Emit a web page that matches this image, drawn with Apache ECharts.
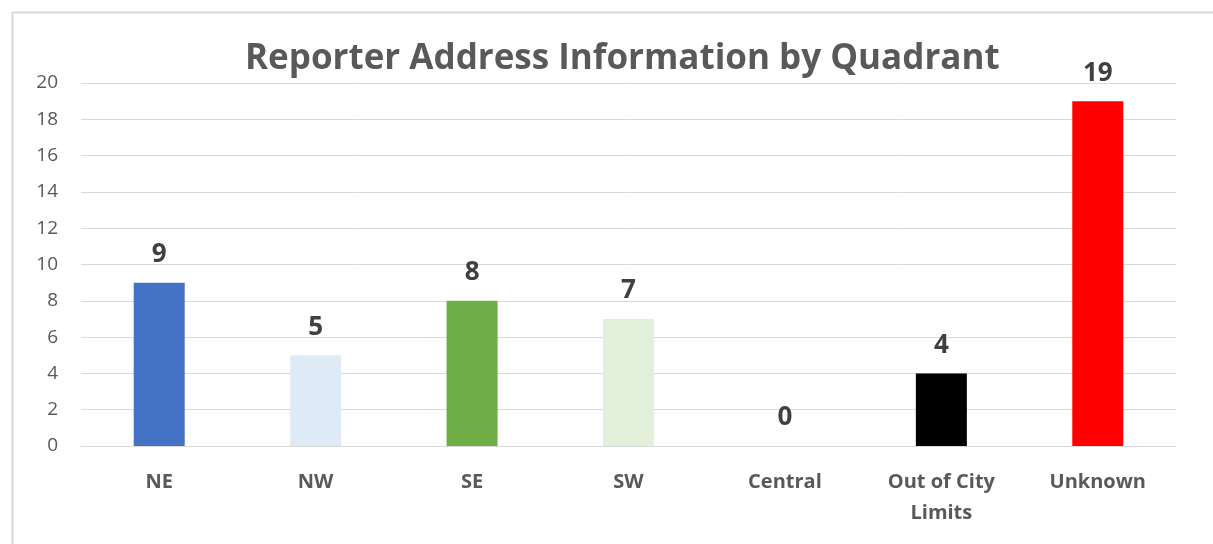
<!DOCTYPE html>
<html><head><meta charset="utf-8">
<script src="https://cdn.jsdelivr.net/npm/echarts@6/dist/echarts.min.js"></script>
<style>html,body{margin:0;padding:0;background:#fff;}#c{width:1213px;height:544px;}</style>
</head><body><div id="c"></div>
<script>
const categories = ['NE', 'NW', 'SE', 'SW', 'Central', 'Out of City\nLimits', 'Unknown'];
const values = [9, 5, 8, 7, 0, 4, 19];
const barColors = ['#4472C4', '#DEEBF7', '#70AD47', '#E2EFDA', '#A5A5A5', '#000000', '#FF0000'];
const yTicks = [0, 2, 4, 6, 8, 10, 12, 14, 16, 18, 20];

const chart = echarts.init(document.getElementById('c'));
const font = 'Open Sans';
chart.setOption({
  animation: false,
  backgroundColor: '#fff',
  graphic: [{
    type: 'rect', left: 10, top: 10,
    shape: { width: 1220, height: 560 },
    style: { fill: 'none', stroke: '#D9D9D9', lineWidth: 2 }
  }],
  title: {
    text: 'Reporter Address Information by Quadrant',
    left: 240, top: 37,
    textStyle: { fontFamily: font, fontWeight: 'bold', fontSize: 35, color: '#595959' }
  },
  grid: { left: 81, right: 37, top: 83, bottom: 98 },
  xAxis: {
    type: 'category', data: categories,
    axisLine: { show: true, lineStyle: { color: '#D9D9D9', width: 1 } },
    axisTick: { show: false },
    axisLabel: { fontFamily: font, fontWeight: 'bold', fontSize: 20, color: '#595959', margin: 21, lineHeight: 31 }
  },
  yAxis: {
    type: 'value', min: yTicks[0], max: yTicks[yTicks.length - 1], interval: 2,
    axisLine: { show: false }, axisTick: { show: false },
    splitLine: { lineStyle: { color: '#D9D9D9', width: 1 } },
    axisLabel: { fontFamily: font, fontSize: 19, color: '#595959', margin: 23 }
  },
  series: [{
    type: 'bar', barWidth: 51,
    data: values.map((v, i) => ({ value: v, itemStyle: { color: barColors[i] } })),
    label: { show: true, position: 'top', distance: 15, fontFamily: font, fontWeight: 'bold', fontSize: 26, color: '#404040' }
  }]
});
</script></body></html>
